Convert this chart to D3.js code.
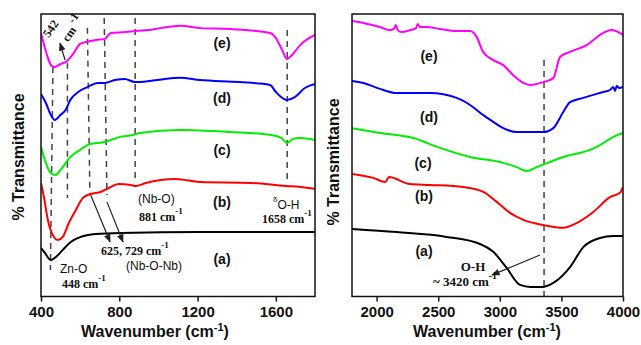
<!DOCTYPE html>
<html>
<head>
<meta charset="utf-8">
<script src="https://cdn.jsdelivr.net/npm/d3@7/dist/d3.min.js"></script>
<style>
  body { margin: 0; background: #fff; }
  text { font-family: "Liberation Sans", Arial, sans-serif; }
  .serif { font-family: "Liberation Serif", "Times New Roman", serif; font-weight: bold; }
</style>
</head>
<body>
<svg id="chart" width="641" height="345"></svg>
<script>
// sample labels and colours, bottom to top
const sampleLabels = ["(a)", "(b)", "(c)", "(d)", "(e)"];
const sampleColors = ["#000000", "#ff0000", "#00ee00", "#0000ff", "#ff00ff"];

// left panel spectra, 400-1800 cm-1 ([wavenumber, transmittance a.u.])
const lowA = [[400,17.2],[420,15.4],[450,12.9],[476,14.0],[511,16.5],[552,19.3],[603,21.1],[680,22.1],[808,22.5],[1216,22.8],[1800,22.8]];
const lowB = [[400,40.2],[415,35.2],[435,27.1],[460,21.8],[486,20.0],[511,21.1],[542,26.0],[578,30.6],[614,34.9],[654,36.3],[705,37.0],[746,38.4],[797,39.8],[859,39.5],[884,39.1],[935,40.2],[1088,41.6],[1216,40.5],[1472,40.2],[1650,39.1],[1726,38.8],[1800,38.1]];
const lowC = [[400,52.9],[425,47.3],[450,43.7],[475,43.0],[500,44.8],[550,49.4],[600,51.9],[650,54.0],[726,54.7],[803,56.5],[870,57.2],[905,57.9],[1110,58.9],[1365,58.2],[1570,57.2],[1630,56.1],[1656,54.3],[1687,55.8],[1723,56.1],[1800,55.4]];
const lowD = [[400,71.7],[425,68.5],[450,64.3],[470,62.5],[500,64.3],[525,66.0],[550,69.6],[590,72.4],[640,74.2],[690,75.6],[726,75.6],[777,76.6],[828,77.0],[880,75.9],[956,76.3],[1033,77.0],[1110,77.4],[1212,76.6],[1416,75.9],[1570,74.9],[1600,72.4],[1656,69.6],[1697,70.6],[1748,73.8],[1800,75.2]];
const lowE = [[400,93.3],[434,84.8],[450,82.0],[466,81.2],[500,82.3],[530,83.2],[560,85.5],[600,89.4],[629,90.1],[680,90.8],[726,91.2],[756,93.3],[833,93.6],[884,94.0],[950,94.3],[1011,95.0],[1113,95.8],[1215,95.0],[1367,94.7],[1571,93.3],[1596,91.9],[1632,87.3],[1657,84.1],[1683,85.5],[1724,89.0],[1800,92.6]];

// right panel spectra, 1800-4000 cm-1
const highA = [[1800,23.9],[2163,22.8],[2569,21.1],[2839,18.6],[2947,15.8],[3056,10.1],[3164,4.1],[3250,3.4],[3353,3.4],[3434,4.8],[3570,10.4],[3678,17.5],[3813,20.7],[3921,21.4],[4000,21.4]];
const highB = [[1800,43.4],[1973,42.0],[2070,40.5],[2100,42.3],[2271,39.8],[2433,39.5],[2704,38.8],[2866,37.0],[2975,33.5],[3083,29.6],[3191,27.1],[3353,25.3],[3515,24.3],[3624,26.0],[3759,29.9],[3894,35.2],[3976,36.7],[4000,38.8]];
const highC = [[1800,59.6],[2027,57.9],[2298,56.1],[2514,52.6],[2758,49.4],[3028,47.3],[3137,45.8],[3218,44.4],[3299,45.8],[3407,47.6],[3515,49.4],[3732,51.9],[3813,53.6],[3921,56.5],[4000,57.9]];
const highD = [[1800,76.3],[1892,75.6],[2027,73.5],[2163,72.0],[2433,72.0],[2650,70.3],[2758,67.8],[2866,64.2],[2947,61.8],[3028,59.6],[3137,58.2],[3353,58.2],[3434,59.6],[3515,65.3],[3570,68.8],[3678,70.3],[3840,72.4],[3894,73.1],[3921,74.2],[3935,72.7],[3949,74.5],[3970,73.8],[4000,74.2]];
const highE = [[1800,97.5],[1892,96.8],[2027,95.4],[2108,94.3],[2140,94.7],[2155,96.1],[2170,94.3],[2203,93.6],[2271,94.3],[2320,95.0],[2333,96.5],[2350,95.4],[2406,95.4],[2514,94.7],[2650,94.0],[2758,94.0],[2812,91.9],[2864,86.6],[2947,83.7],[3028,81.9],[3107,78.4],[3191,75.6],[3245,74.9],[3353,75.9],[3434,77.3],[3489,84.8],[3570,86.6],[3705,89.0],[3840,93.3],[3908,94.3],[4000,92.6]];

// tick values
const lowTicks = [400, 800, 1200, 1600];
const highTicks = [2000, 2500, 3000, 3500, 4000];

// band guide lines: [wavenumber, transmittance] at top and bottom end
const lowGuides = [
  [[461, 81.2], [448, 9.4]],
  [[535, 82.7], [535, 34.9]],
  [[637, 95.1], [650, 35.9]],
  [[723, 98.6], [737, 35.9]],
  [[881, 98.6], [881, 40.2]],
  [[1658, 94.3], [1658, 40.2]]
];
const highGuides = [[[3359, 83.7], [3359, 0]]];

// annotation arrows: [tail, head]
const lowArrows = [
  [[523, 83.7], [497, 89.7]],
  [[654, 35.9], [753, 19.3]],
  [[737, 33.5], [819, 19.3]]
];
const highArrows = [[[3326, 14.7], [2937, 7.6]]];

const svg = d3.select("#chart");
const yTop = 14, yBot = 296.5;

svg.append("defs").append("marker")
  .attr("id", "head")
  .attr("viewBox", "0 0 10 10")
  .attr("refX", 9).attr("refY", 5)
  .attr("markerWidth", 7).attr("markerHeight", 7)
  .attr("orient", "auto")
  .append("path")
  .attr("d", "M0,1 L10,5 L0,9 Z")
  .attr("fill", "#222");

function drawPanel(p) {
  const x = d3.scaleLinear().domain(p.domain).range(p.range);
  const y = d3.scaleLinear().domain([0, 100]).range([yBot, yTop]);
  const g = svg.append("g");

  const clipId = "clip" + p.id;
  g.append("clipPath").attr("id", clipId)
    .append("rect")
    .attr("x", p.range[0]).attr("y", yTop)
    .attr("width", p.range[1] - p.range[0]).attr("height", yBot - yTop);

  // dashed guides
  g.selectAll(".guide")
    .data(p.guides)
    .enter()
    .append("line")
    .attr("x1", (d) => x(d[0][0])).attr("y1", (d) => y(d[0][1]))
    .attr("x2", (d) => x(d[1][0])).attr("y2", (d) => y(d[1][1]))
    .attr("stroke", "#444")
    .attr("stroke-width", 1.5)
    .attr("stroke-dasharray", "6,5");

  const line = d3.line()
    .x((d) => x(d[0]))
    .y((d) => y(d[1]))
    .curve(d3.curveMonotoneX);

  g.append("g").attr("clip-path", `url(#${clipId})`)
    .selectAll("path")
    .data(p.series)
    .enter()
    .append("path")
    .attr("fill", "none")
    .attr("stroke", (d, i) => sampleColors[i])
    .attr("stroke-width", 2)
    .attr("d", line);

  // arrows
  g.selectAll(".arrow")
    .data(p.arrows)
    .enter()
    .append("line")
    .attr("x1", (d) => x(d[0][0])).attr("y1", (d) => y(d[0][1]))
    .attr("x2", (d) => x(d[1][0])).attr("y2", (d) => y(d[1][1]))
    .attr("stroke", "#222")
    .attr("stroke-width", 1.2)
    .attr("marker-end", "url(#head)");

  // frame
  g.append("rect")
    .attr("x", p.range[0]).attr("y", yTop)
    .attr("width", p.range[1] - p.range[0]).attr("height", yBot - yTop)
    .attr("fill", "none")
    .attr("stroke", "#111")
    .attr("stroke-width", 1.5);

  // x axis
  const ax = g.append("g")
    .attr("transform", `translate(0,${yBot})`)
    .call(d3.axisBottom(x).tickValues(p.ticks).tickFormat(d3.format("d"))
      .tickSizeInner(5).tickSizeOuter(0).tickPadding(5));
  ax.select(".domain").remove();
  ax.selectAll(".tick line").attr("stroke", "#111").attr("stroke-width", 1.5);
  ax.selectAll(".tick text")
    .attr("fill", "#111")
    .style("font-size", "15px")
    .style("font-weight", "bold")
    .style("font-family", "'Liberation Sans', Arial, sans-serif");

  // axis title
  const t = g.append("text")
    .attr("x", p.titleX).attr("y", 337)
    .attr("text-anchor", "middle")
    .style("font-size", "16px")
    .style("font-weight", "bold")
    .attr("fill", "#111");
  t.append("tspan").text("Wavenumber (cm");
  t.append("tspan").attr("dy", -6).style("font-size", "11px").text("-1");
  t.append("tspan").attr("dy", 6).text(")");

  g.append("text")
    .attr("transform", `translate(${p.yLabelX},${p.yLabelY}) rotate(-90)`)
    .attr("text-anchor", "middle")
    .style("font-size", "16px")
    .style("font-weight", "bold")
    .attr("fill", "#111")
    .text("% Transmittance");

  // sample labels
  g.selectAll(".lab")
    .data(p.labelPos)
    .enter()
    .append("text")
    .attr("x", (d) => d[0]).attr("y", (d) => d[1])
    .attr("dy", "0.35em")
    .attr("text-anchor", "middle")
    .style("font-size", "14px")
    .style("font-weight", "bold")
    .attr("fill", "#111")
    .text((d, i) => sampleLabels[i]);

  return g;
}

// text with a trailing superscript "-1"
function cmText(g, x, y, main, size, anchor) {
  const t = g.append("text")
    .attr("class", "serif")
    .attr("x", x).attr("y", y)
    .attr("text-anchor", anchor || "start")
    .style("font-size", size + "px")
    .attr("fill", "#111");
  t.append("tspan").text(main);
  t.append("tspan").attr("dy", -size * 0.55).style("font-size", (size * 0.75) + "px").text("-1");
  return t;
}

const left = drawPanel({
  id: "L",
  domain: [400, 1800], range: [41, 315],
  ticks: lowTicks,
  series: [lowA, lowB, lowC, lowD, lowE],
  guides: lowGuides,
  arrows: lowArrows,
  titleX: 155,
  yLabelX: 24, yLabelY: 157,
  labelPos: [[222, 259], [222, 202], [222, 150], [222, 98], [222, 43]]
});

const right = drawPanel({
  id: "R",
  domain: [1800, 4000], range: [352, 623],
  ticks: highTicks,
  series: [highA, highB, highC, highD, highE],
  guides: highGuides,
  arrows: highArrows,
  titleX: 487,
  yLabelX: 339, yLabelY: 162,
  labelPos: [[424, 251], [424, 196], [423, 163], [429, 117], [429, 56]]
});

// left panel annotations
left.append("text").attr("class", "serif")
  .attr("transform", "translate(54,31) rotate(-55)")
  .attr("text-anchor", "middle")
  .style("font-size", "12px").attr("fill", "#111")
  .text("542");
const cmRot = left.append("text").attr("class", "serif")
  .attr("transform", "translate(76,31) rotate(-55)")
  .attr("text-anchor", "middle")
  .style("font-size", "12px").attr("fill", "#111");
cmRot.append("tspan").text("cm");
cmRot.append("tspan").attr("dy", -6).text(" -1");

left.append("text").attr("x", 138).attr("y", 203)
  .style("font-size", "12px").attr("fill", "#111").text("(Nb-O)");
cmText(left, 139, 221, "881 cm", 12);

const dOH = left.append("text").attr("x", 273).attr("y", 209)
  .style("font-size", "12px").attr("fill", "#111");
dOH.append("tspan").attr("dy", -7).style("font-size", "8px").text("δ");
dOH.append("tspan").attr("dy", 7).text("O-H");
cmText(left, 262, 223, "1658 cm", 12);

cmText(left, 101, 255, "625, 729 cm", 12);
left.append("text").attr("x", 126).attr("y", 270)
  .style("font-size", "12px").attr("fill", "#111").text("(Nb-O-Nb)");

left.append("text").attr("x", 60).attr("y", 273)
  .style("font-size", "12px").attr("fill", "#111").text("Zn-O");
cmText(left, 62, 288, "448 cm", 12);

// right panel annotations
right.append("text").attr("class", "serif")
  .attr("x", 473).attr("y", 271)
  .attr("text-anchor", "middle")
  .style("font-size", "13px").attr("fill", "#111")
  .text("O-H");
cmText(right, 433, 286, "~ 3420 cm", 13);
</script>
</body>
</html>
